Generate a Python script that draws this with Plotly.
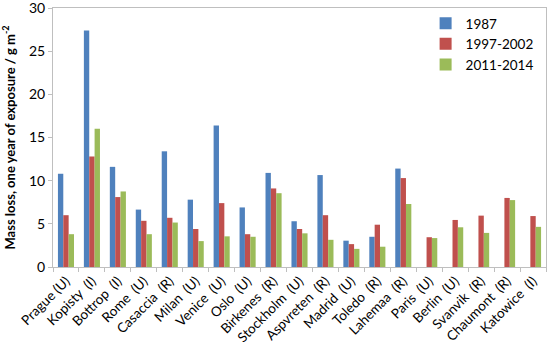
import plotly.graph_objects as go

sites = ["Prague (U)", "Kopisty  (I)", "Bottrop  (I)", "Rome  (U)", "Casaccia  (R)",
         "Milan  (U)", "Venice  (U)", "Oslo  (U)", "Birkenes  (R)", "Stockholm  (U)",
         "Aspvreten  (R)", "Madrid  (U)", "Toledo  (R)", "Lahemaa  (R)", "Paris  (U)",
         "Berlin  (U)", "Svanvik  (R)", "Chaumont  (R)", "Katowice  (I)"]

v1987 = [10.8, 27.4, 11.6, 6.65, 13.4, 7.8, 16.4, 6.9, 10.9, 5.3,
         10.65, 3.05, 3.5, 11.4, None, None, None, None, None]
v1997 = [6.0, 12.8, 8.1, 5.35, 5.7, 4.4, 7.4, 3.8, 9.1, 4.4,
         6.0, 2.65, 4.9, 10.3, 3.45, 5.45, 5.95, 8.0, 5.9]
v2011 = [3.8, 16.0, 8.75, 3.8, 5.15, 3.0, 3.55, 3.5, 8.55, 3.9,
         3.15, 2.1, 2.35, 7.3, 3.35, 4.6, 3.95, 7.75, 4.65]

series = [("1987", v1987, "#4F81BD"), ("1997-2002", v1997, "#C0504D"), ("2011-2014", v2011, "#9BBB59")]

fig = go.Figure()
for name, vals, col in series:
    fig.add_trace(go.Bar(x=[s.replace("  ", "\u00a0\u00a0") for s in sites], y=vals, name=name,
                         marker=dict(color=col, line=dict(width=0))))

font = "Lato, 'Open Sans', sans-serif"
fig.update_layout(
    width=550, height=358,
    margin=dict(l=53, r=4, t=8, b=91, autoexpand=False),
    plot_bgcolor="white", paper_bgcolor="white",
    barmode="group", bargap=0.38, bargroupgap=0,
    font=dict(family=font, size=13, color="#000000"),
    legend=dict(x=0.985, y=1.0, xanchor="right", yanchor="top",
                bgcolor="rgba(255,255,255,0)", font=dict(size=13.5),
                itemwidth=30, tracegroupgap=0),
    showlegend=True,
)
fig.update_xaxes(showline=True, linecolor="#bfbfbf", linewidth=1, mirror=True,
                 ticks="outside", tickson="boundaries", ticklen=4, tickcolor="#bfbfbf",
                 tickangle=-45, tickfont=dict(size=13.5), showgrid=False, automargin=False,
                 ticklabeloverflow="allow")
fig.update_yaxes(range=[0, 30], tickvals=[0, 5, 10, 15, 20, 25, 30], showline=True,
                 linecolor="#bfbfbf", linewidth=1, mirror=True,
                 ticks="outside", ticklen=4, tickcolor="#bfbfbf", showgrid=False, zeroline=False,
                 tickfont=dict(size=14), automargin=False, ticklabeloverflow="allow",
                 title=dict(text="<b>Mass loss, one year of exposure / g m<sup>-2</sup></b>",
                            font=dict(size=13), standoff=10))

fig.write_html("out.html", config={"displayModeBar": False},
               post_script="document.body.style.margin='0';")
